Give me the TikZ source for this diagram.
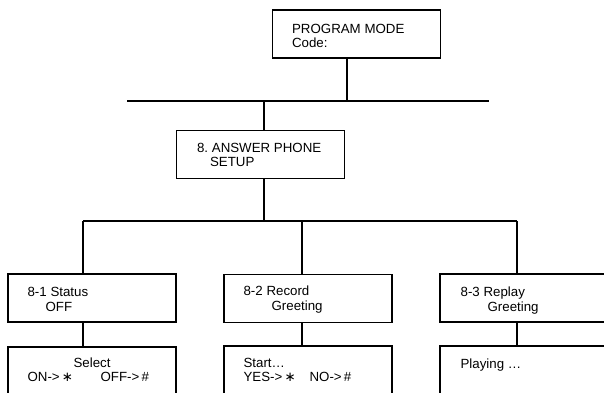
\documentclass[tikz,border=0pt]{standalone}
\usepackage{fontspec}
\setmainfont{Liberation Sans}
\newfontfamily\symfam{DejaVu Sans}
\usetikzlibrary{calc}
\newcommand{\keystar}{{\symfam\char"2217}}

\begin{document}
\begin{tikzpicture}[
    x=1pt, y=-1pt,
    font=\fontsize{13.3}{15}\selectfont,
    box/.style={draw, line width=1.2pt, minimum width=168pt,
                minimum height=48pt, inner sep=0pt},
    txt/.style={anchor=base west, inner sep=0pt},
    conn/.style={line width=1.6pt}
  ]
    \useasboundingbox (0,0) rectangle (604,392);
    \clip (0,0) rectangle (604,392);
    % boxes
    \node[box] (prog) at (356.5,34) {};
    \node[box] (ans)  at (260.5,154.5) {};
    \node[box] (s1) at (92,298) {};
    \node[box] (s2) at (308,298.5) {};
    \node[box] (s3) at (524,298) {};
    \node[box] (t1) at (92,371) {};
    \node[box] (t2) at (308,370) {};
    \node[box] (t3) at (524,370) {};
    % texts
    \node[txt] (progA) at ($(prog.north west)+(20,24)$) {PROGRAM MODE};
    \node[txt] (progB) at ($(prog.north west)+(20,38)$) {Code:};
    \node[txt] (ansA) at ($(ans.north west)+(21,23)$) {8.\ ANSWER PHONE};
    \node[txt] (ansB) at ($(ans.north west)+(34,37)$) {SETUP};
    \node[txt] (s1A) at ($(s1.north west)+(20,23)$) {8-1 Status};
    \node[txt] (s1B) at ($(s1.north west)+(38,38)$) {OFF};
    \node[txt] (s2A) at ($(s2.north west)+(20,22)$) {8-2 Record};
    \node[txt] (s2B) at ($(s2.north west)+(48,37)$) {Greeting};
    \node[txt] (s3A) at ($(s3.north west)+(21,23)$) {8-3 Replay};
    \node[txt] (s3B) at ($(s3.north west)+(48,38)$) {Greeting};
    \node[txt] (t1A) at ($(t1.north west)+(66,21)$) {Select};
    \node[txt] (t1B) at ($(t1.north west)+(20,35)$) {ON->\,\keystar};
    \node[txt] (t1C) at ($(t1.north west)+(93,35)$) {OFF->\,\#};
    \node[txt] (t2A) at ($(t2.north west)+(20,22)$) {Start\dots};
    \node[txt] (t2B) at ($(t2.north west)+(20,36)$) {YES->\,\keystar};
    \node[txt] (t2C) at ($(t2.north west)+(86,36)$) {NO->\,\#};
    \node[txt] (t3A) at ($(t3.north west)+(21,23)$) {Playing \dots};
    % first bus
    \coordinate (busL) at (127,101);
    \coordinate (busR) at (489,101);
    \coordinate (top) at (347,101);
    \coordinate (j1) at (264,101);
    \draw[conn] (busL) -- (busR);
    \draw[conn] (prog.south -| top) -- (top);
    \draw[conn] (j1) -- (j1 |- ans.north);
    % second bus
    \coordinate (c0) at (264,221);
    \coordinate (c1) at (83,221);
    \coordinate (c2) at (302,221);
    \coordinate (c3) at (517,221);
    \draw[conn] (ans.south -| c0) -- (c0);
    \draw[conn] (c1) -- (c3);
    \foreach \i in {1,2,3} {
      \draw[conn] (c\i) -- (c\i |- s\i.north);
      \draw[conn] (s\i.south -| c\i) -- (c\i |- t\i.north);
    }
  \end{tikzpicture}
\end{document}
